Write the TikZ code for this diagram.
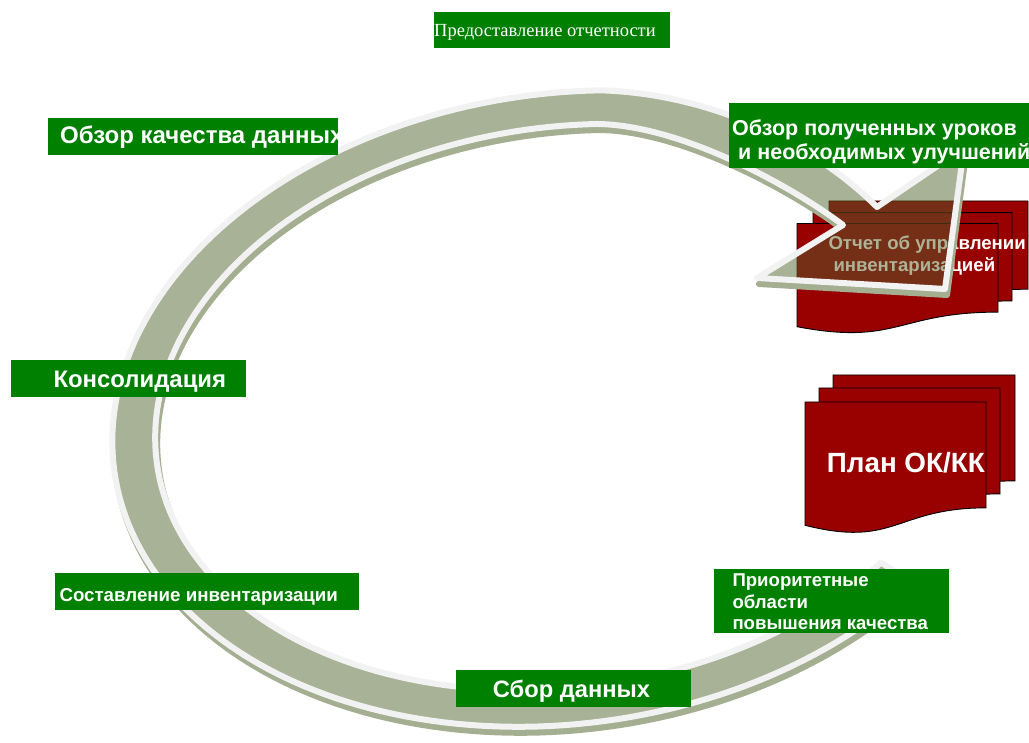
\documentclass[tikz,border=0pt]{standalone}
\usepackage{fontspec}
\setmainfont{Liberation Sans}
\newfontfamily\serfont{Liberation Serif}
\definecolor{gboxc}{HTML}{008000}
\definecolor{docred}{HTML}{990000}
\definecolor{bandc}{HTML}{A8B296}
\definecolor{shadc}{HTML}{A4AE91}
\definecolor{lightc}{HTML}{F2F2F2}
\definecolor{brownc}{HTML}{752F16}
\definecolor{browned}{HTML}{3F2A12}
\definecolor{greytxt}{HTML}{AEB397}
\newcommand{\docsheet}[5]{%
 \path[#5] (#1,#2) -- ({#1+#3},#2) -- ({#1+#3},{#2+0.802*#4}) .. controls ({#1+0.5*#3},{#2+0.802*#4}) and ({#1+0.5*#3},{#2+1.1075*#4}) .. (#1,{#2+0.934*#4}) -- cycle;}
\newcommand{\reportdocs}[1]{%
 \docsheet{829}{201}{199}{110}{#1}
 \docsheet{813}{212.7}{199}{110}{#1}
 \docsheet{797}{223.5}{201}{110.5}{#1}}
\newcommand{\bandshape}[1]{%
 \path[#1] plot[domain=45:280, samples=140, variable=\t]
   ({565+455*cos(\t)*0.9903+315*sin(\t)*0.1392}, {408.5-455*cos(\t)*0.1392+315*sin(\t)*0.9903})
  .. controls (720,94) and (820,150) .. (877,207)
  -- (964,148) -- (945,289) -- (757,278) -- (843,225)
  .. controls (790,185) and (680,125) .. (597.5,124)
  -- plot[domain=280:45, samples=140, variable=\t]
   ({565+412*cos(\t)*0.9903+280*sin(\t)*0.1392}, {407-412*cos(\t)*0.1392+280*sin(\t)*0.9903})
  -- cycle;}
\newcommand{\reporttext}{\begin{tabular}[t]{@{}l@{}}Отчет об управлении\\\hspace{5pt}инвентаризацией\end{tabular}}
\begin{document}
\begin{tikzpicture}[x=1pt,y=-1pt,
  gbox/.style={fill=gboxc, draw=none, inner sep=0pt, anchor=north west},
  lbl/.style={text=white, inner sep=0pt, anchor=base west, font=\bfseries},
  sheet/.style={fill=docred, draw=black, line width=0.9pt}]
\useasboundingbox (0,0) rectangle (1029,743);
% documents
\docsheet{833}{375}{182}{132}{sheet}
\docsheet{819}{388}{181}{132}{sheet}
\docsheet{805}{402}{181}{132}{sheet}
\reportdocs{sheet}
\node[lbl, font=\bfseries\fontsize{18.6}{21.7}\selectfont] (t8) at (828.3,250) {\reporttext};
\node[lbl, font=\bfseries\fontsize{27.8}{32}\selectfont] (t9) at (826.7,472) {План ОК/КК};
% ring arrow
\begin{scope}[shift={(2,6)}]
 \bandshape{fill=shadc, draw=shadc, line width=6pt, line join=round}
\end{scope}
\bandshape{fill=bandc}
\begin{scope}
 \bandshape{clip}
 \reportdocs{fill=brownc, draw=browned, line width=0.9pt}
 \node[lbl, text=greytxt, font=\bfseries\fontsize{18.6}{21.7}\selectfont] (t8b) at (828.3,250) {\reporttext};
\end{scope}
\bandshape{draw=lightc, line width=6pt, line join=round}
% green boxes
\node[gbox, minimum width=235.3, minimum height=36.6] (b1) at (434,11.7) {};
\node[gbox, minimum width=290, minimum height=37] (b2) at (48,118) {};
\node[gbox, minimum width=300, minimum height=64.4] (b3) at (729,103.3) {};
\node[gbox, minimum width=235, minimum height=36.7] (b4) at (11,360) {};
\node[gbox, minimum width=304, minimum height=37.3] (b5) at (55,572.7) {};
\node[gbox, minimum width=235, minimum height=36.7] (b6) at (456,670) {};
\node[gbox, minimum width=235, minimum height=64.4] (b7) at (714,568.3) {};
% labels
\node[lbl, font=\serfont\fontsize{18.5}{21}\selectfont] (t1) at (434,36.7) {Предоставление отчетности};
\node[lbl, font=\bfseries\fontsize{24}{27}\selectfont] (t2) at (60,143.3) {Обзор качества данных};
\node[lbl, font=\bfseries\fontsize{21.5}{23.3}\selectfont] (t3) at (732,136) {\begin{tabular}[t]{@{}l@{}}Обзор полученных уроков\\\hspace{6pt}и необходимых улучшений\end{tabular}};
\node[lbl, font=\bfseries\fontsize{23.9}{27}\selectfont] (t4) at (53.3,387.3) {Консолидация};
\node[lbl, font=\bfseries\fontsize{18.7}{22}\selectfont] (t5) at (59.3,601.7) {Составление инвентаризации};
\node[lbl, font=\bfseries\fontsize{23.7}{27}\selectfont] (t6) at (492.7,697.3) {Сбор данных};
\node[lbl, font=\bfseries\fontsize{18.6}{21.3}\selectfont] (t7) at (732.3,586.7) {\begin{tabular}[t]{@{}l@{}}Приоритетные\\области\\повышения качества\end{tabular}};
\end{tikzpicture}
\end{document}
